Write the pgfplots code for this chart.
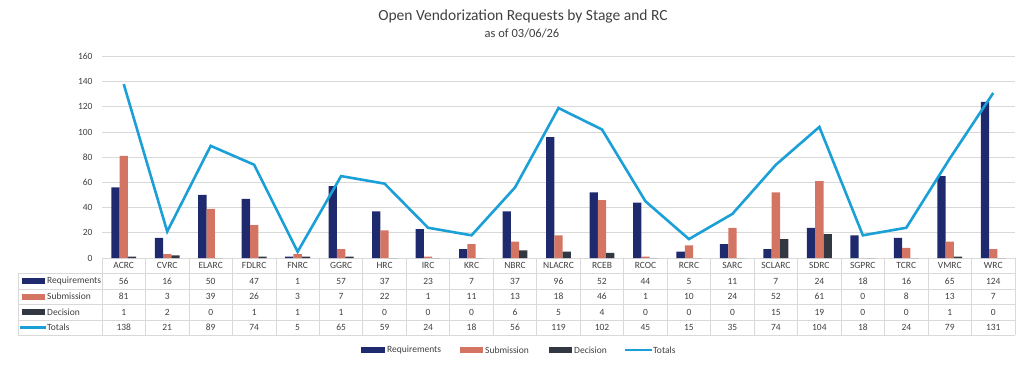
\documentclass[border=0pt]{standalone}
\usepackage{pgfplots}
\pgfplotsset{compat=1.18}
\usepackage{pgfplotstable}
\usepackage{fontspec}
\setmainfont{Carlito}

\definecolor{reqc}{RGB}{31,42,110}
\definecolor{subc}{RGB}{212,117,100}
\definecolor{decc}{RGB}{50,56,66}
\definecolor{totc}{RGB}{26,160,214}
\definecolor{gridc}{RGB}{217,217,217}
\definecolor{txtc}{RGB}{64,64,64}

% open requests per RC and stage
\pgfplotstableread{
rc     req sub dec tot
ACRC    56  81  1 138
CVRC    16   3  2  21
ELARC   50  39  0  89
FDLRC   47  26  1  74
FNRC     1   3  1   5
GGRC    57   7  1  65
HRC     37  22  0  59
IRC     23   1  0  24
KRC      7  11  0  18
NBRC    37  13  6  56
NLACRC  96  18  5 119
RCEB    52  46  4 102
RCOC    44   1  0  45
RCRC     5  10  0  15
SARC    11  24  0  35
SCLARC   7  52 15  74
SDRC    24  61 19 104
SGPRC   18   0  0  18
TCRC    16   8  0  24
VMRC    65  13  1  79
WRC    124   7  0 131
}\data

\def\cw{43.476}
\tikzset{tab/.style={text=txtc, font=\fontsize{9.5}{11}\selectfont, inner sep=0pt}}

\begin{document}
\begin{tikzpicture}
\useasboundingbox (-102pt,-106pt) rectangle (931pt,258pt);
\begin{axis}[
    at={(0pt,0pt)}, anchor=south west,
    width=913pt, height=201.6pt, scale only axis,
    xmin=-0.5, xmax=20.5, ymin=0, ymax=160,
    ytick={0,20,...,160}, xtick=\empty,
    ymajorgrids, grid style={gridc, line width=0.8pt},
    axis line style={draw=none},
    major tick length=0pt,
    yticklabel style={font=\fontsize{9.5}{11}\selectfont, text=txtc, xshift=-6pt},
    /pgf/number format/assume math mode=true,
    clip=false,
]
\addplot[ybar, bar width=8.3pt, bar shift=-8.3pt, fill=reqc, draw=none] table[x expr=\coordindex, y=req]{\data};
\addplot[ybar, bar width=8.3pt, bar shift=0pt, fill=subc, draw=none] table[x expr=\coordindex, y=sub]{\data};
\addplot[ybar, bar width=8.3pt, bar shift=8.3pt, fill=decc, draw=none] table[x expr=\coordindex, y=dec]{\data};
\addplot[totc, line width=2.6pt, mark=none] table[x expr=\coordindex, y=tot]{\data};
\end{axis}

% titles
\node[text=txtc, font=\fontsize{15.5}{17}\selectfont] at (421pt,242pt) {Open Vendorization Requests by Stage and RC};
\node[text=txtc, font=\fontsize{12.5}{14}\selectfont] at (420pt,225pt) {as of 03/06/26};

% data table grid
\foreach \i in {0,...,21}
  \draw[gridc, line width=0.8pt] ({\i*\cw pt},0pt) -- ({\i*\cw pt},-77pt);
\foreach \y in {-15,-31,-46,-62,-77}
  \draw[gridc, line width=0.8pt] (-84pt,\y pt) -- (913pt,\y pt);
\draw[gridc, line width=0.8pt] (-84pt,-15pt) -- (-84pt,-77pt);

% row keys
\fill[reqc] (-80pt,-26pt) rectangle (-57pt,-20pt);
\node[tab, anchor=west] at (-55pt,-23pt) {Requirements};
\fill[subc] (-80pt,-41.5pt) rectangle (-57pt,-35.5pt);
\node[tab, anchor=west] at (-55pt,-38.5pt) {Submission};
\fill[decc] (-80pt,-57pt) rectangle (-57pt,-51pt);
\node[tab, anchor=west] at (-55pt,-54pt) {Decision};
\draw[totc, line width=2.6pt] (-82pt,-69.5pt) -- (-56pt,-69.5pt);
\node[tab, anchor=west] at (-55pt,-69.5pt) {Totals};

% cell contents
\foreach \i in {0,...,20}{
  \pgfmathsetmacro\xc{(\i+0.5)*\cw}
  \pgfplotstablegetelem{\i}{rc}\of\data
  \node[tab] at (\xc pt,-7.5pt) {\pgfplotsretval};
  \pgfplotstablegetelem{\i}{req}\of\data
  \node[tab] at (\xc pt,-23pt) {\pgfplotsretval};
  \pgfplotstablegetelem{\i}{sub}\of\data
  \node[tab] at (\xc pt,-38.5pt) {\pgfplotsretval};
  \pgfplotstablegetelem{\i}{dec}\of\data
  \node[tab] at (\xc pt,-54pt) {\pgfplotsretval};
  \pgfplotstablegetelem{\i}{tot}\of\data
  \node[tab] at (\xc pt,-69.5pt) {\pgfplotsretval};
}

% legend
\fill[reqc] (259pt,-95pt) rectangle (283pt,-89pt);
\node[tab, anchor=west] at (285pt,-92pt) {Requirements};
\fill[subc] (358pt,-95pt) rectangle (381pt,-89pt);
\node[tab, anchor=west] at (383pt,-92pt) {Submission};
\fill[decc] (447pt,-95pt) rectangle (470pt,-89pt);
\node[tab, anchor=west] at (472pt,-92pt) {Decision};
\draw[totc, line width=2.6pt] (523pt,-92pt) -- (550pt,-92pt);
\node[tab, anchor=west] at (551pt,-92pt) {Totals};
\end{tikzpicture}
\end{document}
